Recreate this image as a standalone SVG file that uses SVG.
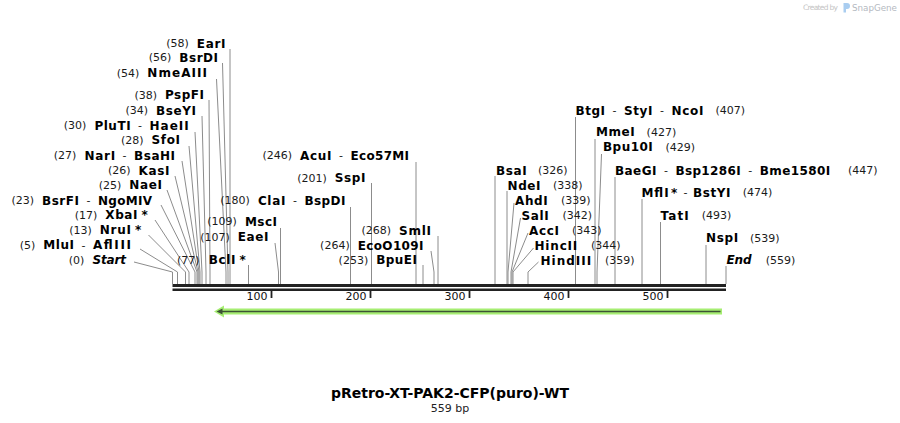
<svg xmlns="http://www.w3.org/2000/svg" width="900" height="423" viewBox="0 0 900 423">
<style>
text{font-family:"DejaVu Sans",Verdana,sans-serif}
.b{font-weight:bold;font-size:12px;fill:#000}
.i{font-style:italic}
.n{font-size:11px;fill:#1a1a1a}
.d{font-size:11px;fill:#1a1a1a}
.e{text-anchor:end}
.m{text-anchor:middle}
.ln{stroke:#8c8c8c;stroke-width:1;fill:none}
.tk{font-size:11px;fill:#111;text-anchor:end}
</style>
<rect width="900" height="423" fill="#fff"/>

<g id="logo">
<text x="803" y="10" textLength="35" style="font-size:7.5px;fill:#c4c4c4">Created by</text>
<path d="M843.5,3 h3.5 a3,3 0 0 1 0,6 h-1 v3.5 h-2.5 z" fill="#a9cdf0"/>
<text x="852" y="11" textLength="45" lengthAdjust="spacingAndGlyphs" style="font-size:9.5px;fill:#b4b9bf">SnapGene</text>
</g>

<g id="connectors">
<path class="ln" d="M230,49V284"/>
<path class="ln" d="M222.5,63L228,272V284"/>
<path class="ln" d="M216.5,79L226,272V284"/>
<path class="ln" d="M209,100L210,272V284"/>
<path class="ln" d="M202,116L206,272V284"/>
<path class="ln" d="M195,132L202,272V284"/>
<path class="ln" d="M189,146L200,272V284"/>
<path class="ln" d="M182,161L199,272V284"/>
<path class="ln" d="M175,176L198,272V284"/>
<path class="ln" d="M167,190L197,272V284"/>
<path class="ln" d="M161,205L195,272V284"/>
<path class="ln" d="M155,220L189,272V284"/>
<path class="ln" d="M148.5,235L185.5,272V284"/>
<path class="ln" d="M140,249L177.5,272V284"/>
<path class="ln" d="M134,262L172.5,272V284"/>
<path class="ln" d="M248.5,265V284"/>
<path class="ln" d="M275,243L278.5,272V284"/>
<path class="ln" d="M280.5,228V284"/>
<path class="ln" d="M350.5,207V284"/>
<path class="ln" d="M371.5,183V284"/>
<path class="ln" d="M416,162V284"/>
<path class="ln" d="M438,236V284"/>
<path class="ln" d="M431,251L434,272V284"/>
<path class="ln" d="M423,265V284"/>
<path class="ln" d="M495,176V284"/>
<path class="ln" d="M507,191V284"/>
<path class="ln" d="M514,203L508,272V284"/>
<path class="ln" d="M520.5,218L511,272V284"/>
<path class="ln" d="M528,233L512,272V284"/>
<path class="ln" d="M533.5,248L513,272V284"/>
<path class="ln" d="M538.5,262L528,272V284"/>
<path class="ln" d="M575.5,117V284"/>
<path class="ln" d="M595,139V284"/>
<path class="ln" d="M601.5,154L597,272V284"/>
<path class="ln" d="M615,177V284"/>
<path class="ln" d="M642,199V284"/>
<path class="ln" d="M660.5,222V284"/>
<path class="ln" d="M706,245V284"/>
<path class="ln" d="M726,266V284"/>
</g>

<g id="ruler">
<rect x="172.5" y="284" width="553.5" height="3" fill="#222"/>
<rect x="172.5" y="288.5" width="553.5" height="2.5" fill="#222"/>
<path d="M271.5,291V298M370.5,291V298M469.5,291V298M568.5,291V298M667.5,291V298" stroke="#222" stroke-width="1.8"/>
<text class="tk" x="267.5" y="300">100</text>
<text class="tk" x="366.5" y="300">200</text>
<text class="tk" x="465.5" y="300">300</text>
<text class="tk" x="564.5" y="300">400</text>
<text class="tk" x="663.5" y="300">500</text>
</g>

<g id="feature">
<path d="M722,311.5H222" stroke="#a6ee72" stroke-width="6"/>
<polygon points="214,311.5 224,305.5 224,317.5" fill="#a6ee72"/>
<path d="M720.5,311.5H221" stroke="#3c5234" stroke-width="1.6"/>
<polygon points="216.5,311.5 222.5,308.6 222.5,314.4" fill="#3c5234"/>
</g>

<g id="site-EarI"><text class="n e" x="188.8" y="47">(58)</text><text class="b" x="196.8" y="47.5" textLength="28.7">EarI</text></g>
<g id="site-BsrDI"><text class="n e" x="171.3" y="61">(56)</text><text class="b" x="179.3" y="61.5" textLength="38.7">BsrDI</text></g>
<g id="site-NmeAIII"><text class="n e" x="139.3" y="76.5">(54)</text><text class="b" x="147.3" y="77" textLength="59.7">NmeAIII</text></g>
<g id="site-PspFI"><text class="n e" x="157" y="98.5">(38)</text><text class="b" x="165" y="99" textLength="39">PspFI</text></g>
<g id="site-BseYI"><text class="n e" x="148.1" y="114">(34)</text><text class="b" x="156.1" y="114.5" textLength="39.9">BseYI</text></g>
<g id="site-PluTI"><text class="n e" x="86.4" y="129">(30)</text><text class="b" x="94.4" y="129.5" textLength="36.2">PluTI</text><text class="d" x="138.1" y="129">-</text><text class="b" x="149.6" y="129.5" textLength="39.1">HaeII</text></g>
<g id="site-SfoI"><text class="n e" x="143.5" y="143.5">(28)</text><text class="b" x="151.5" y="144" textLength="28.5">SfoI</text></g>
<g id="site-NarI"><text class="n e" x="76.4" y="159">(27)</text><text class="b" x="84.4" y="159.5" textLength="30.7">NarI</text><text class="d" x="122.6" y="159">-</text><text class="b" x="134.1" y="159.5" textLength="40.9">BsaHI</text></g>
<g id="site-KasI"><text class="n e" x="130.5" y="174">(26)</text><text class="b" x="138.5" y="174.5" textLength="31">KasI</text></g>
<g id="site-NaeI"><text class="n e" x="121.3" y="188.5">(25)</text><text class="b" x="129.3" y="189" textLength="32.7">NaeI</text></g>
<g id="site-BsrFI"><text class="n e" x="34" y="204">(23)</text><text class="b" x="42" y="204.5" textLength="37">BsrFI</text><text class="d" x="86.5" y="204">-</text><text class="b" x="98" y="204.5" textLength="54">NgoMIV</text></g>
<g id="site-XbaI"><text class="n e" x="97.3" y="218.5">(17)</text><text class="b" x="105.3" y="219" textLength="32.2">XbaI</text><text class="b" x="141.5" y="219">*</text></g>
<g id="site-NruI"><text class="n e" x="91.8" y="233.5">(13)</text><text class="b" x="99.8" y="234" textLength="31.2">NruI</text><text class="b" x="135" y="234">*</text></g>
<g id="site-MluI"><text class="n e" x="35.3" y="248.5">(5)</text><text class="b" x="43.3" y="249" textLength="30.6">MluI</text><text class="d" x="81.4" y="248.5">-</text><text class="b" x="92.9" y="249" textLength="38.1">AflIII</text></g>
<g id="site-Start"><text class="n e" x="84.4" y="263.5">(0)</text><text class="b i" x="92.4" y="264" textLength="33.6">Start</text></g>

<g id="site-BclI"><text class="n e" x="199.5" y="263.5">(77)</text><text class="b" x="208.7" y="264" textLength="26.8">BclI</text><text class="b" x="239.5" y="264">*</text></g>
<g id="site-EaeI"><text class="n e" x="229.8" y="240.5">(107)</text><text class="b" x="237.8" y="241" textLength="30.7">EaeI</text></g>
<g id="site-MscI"><text class="n e" x="236.9" y="225">(109)</text><text class="b" x="244.9" y="225.5" textLength="32.1">MscI</text></g>
<g id="site-ClaI"><text class="n e" x="249.9" y="204">(180)</text><text class="b" x="257.9" y="204.5" textLength="27.5">ClaI</text><text class="d" x="292.9" y="204">-</text><text class="b" x="304.4" y="204.5" textLength="41.1">BspDI</text></g>
<g id="site-SspI"><text class="n e" x="326.8" y="181.5">(201)</text><text class="b" x="334.8" y="182" textLength="30.7">SspI</text></g>
<g id="site-AcuI"><text class="n e" x="292" y="159">(246)</text><text class="b" x="300" y="159.5" textLength="31.5">AcuI</text><text class="d" x="339" y="159">-</text><text class="b" x="350.5" y="159.5" textLength="58.5">Eco57MI</text></g>
<g id="site-SmlI"><text class="n e" x="391" y="234">(268)</text><text class="b" x="399" y="234.5" textLength="32">SmlI</text></g>
<g id="site-EcoO109I"><text class="n e" x="349.7" y="249">(264)</text><text class="b" x="357.7" y="249.5" textLength="65.8">EcoO109I</text></g>
<g id="site-BpuEI"><text class="n e" x="368.2" y="263.5">(253)</text><text class="b" x="376.2" y="264" textLength="40.8">BpuEI</text></g>

<g id="site-BsaI"><text class="b" x="496" y="174.5" textLength="30.8">BsaI</text><text class="n" x="538" y="174">(326)</text></g>
<g id="site-NdeI"><text class="b" x="507.5" y="189.5" textLength="33">NdeI</text><text class="n" x="553" y="189">(338)</text></g>
<g id="site-AhdI"><text class="b" x="515" y="204.5" textLength="32.8">AhdI</text><text class="n" x="561" y="204">(339)</text></g>
<g id="site-SalI"><text class="b" x="521.5" y="219.5" textLength="27.3">SalI</text><text class="n" x="562.5" y="219">(342)</text></g>
<g id="site-AccI"><text class="b" x="529" y="234.5" textLength="30">AccI</text><text class="n" x="572" y="234">(343)</text></g>
<g id="site-HincII"><text class="b" x="534.5" y="249.5" textLength="42.8">HincII</text><text class="n" x="591" y="249">(344)</text></g>
<g id="site-HindIII"><text class="b" x="540.5" y="264.5" textLength="50.7">HindIII</text><text class="n" x="605" y="264">(359)</text></g>
<g id="site-BtgI"><text class="b" x="575.5" y="114.5" textLength="29.5">BtgI</text><text class="d" x="612.5" y="114">-</text><text class="b" x="624" y="114.5" textLength="28.5">StyI</text><text class="d" x="660" y="114">-</text><text class="b" x="671.5" y="114.5" textLength="32">NcoI</text><text class="n" x="715.5" y="114">(407)</text></g>
<g id="site-MmeI"><text class="b" x="596" y="136" textLength="38.6">MmeI</text><text class="n" x="646.6" y="135.5">(427)</text></g>
<g id="site-Bpu10I"><text class="b" x="603" y="151" textLength="49.7">Bpu10I</text><text class="n" x="665.5" y="150.5">(429)</text></g>
<g id="site-BaeGI"><text class="b" x="615" y="174.5" textLength="41.4">BaeGI</text><text class="d" x="663.9" y="174">-</text><text class="b" x="675.4" y="174.5" textLength="65.3">Bsp1286I</text><text class="d" x="748.2" y="174">-</text><text class="b" x="759.7" y="174.5" textLength="70.5">Bme1580I</text><text class="n" x="848" y="174">(447)</text></g>
<g id="site-MflI"><text class="b" x="641.5" y="196.5" textLength="27.1">MflI</text><text class="b" x="671" y="196.5">*</text><text class="d" x="683.5" y="196">-</text><text class="b" x="693" y="196.5" textLength="37.4">BstYI</text><text class="n" x="742.7" y="196">(474)</text></g>
<g id="site-TatI"><text class="b" x="660.5" y="219.5" textLength="28.2">TatI</text><text class="n" x="701.7" y="219">(493)</text></g>
<g id="site-NspI"><text class="b" x="706" y="242" textLength="32.2">NspI</text><text class="n" x="750" y="241.5">(539)</text></g>
<g id="site-End"><text class="b i" x="726.5" y="264" textLength="25.1">End</text><text class="n" x="765.7" y="263.5">(559)</text></g>

<g id="title">
<text class="m" x="450" y="398" style="font-size:14px;font-weight:bold;fill:#000">pRetro-XT-PAK2-CFP(puro)-WT</text>
<text class="m" x="450" y="411.5" style="font-size:11px;fill:#222">559 bp</text>
</g>
</svg>
